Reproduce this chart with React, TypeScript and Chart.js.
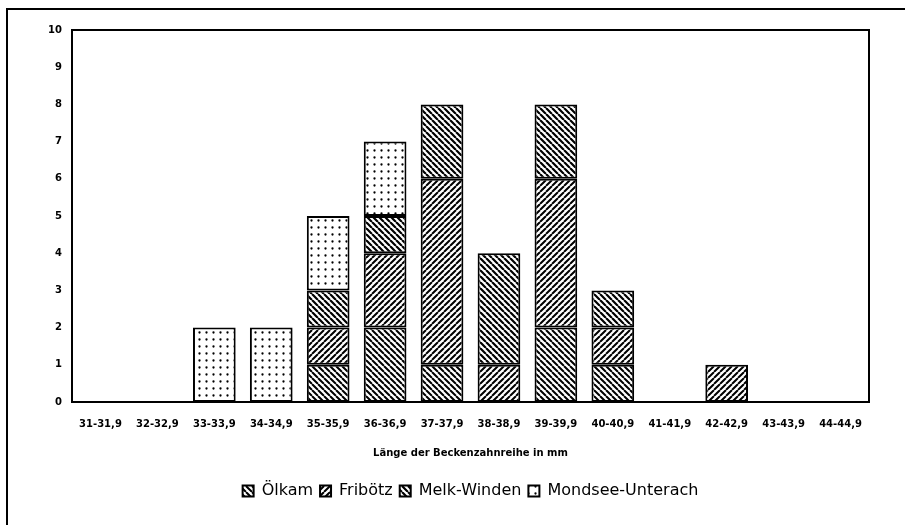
import React, { useEffect, useRef } from "react";
import { Chart, registerables } from "chart.js";

Chart.register(...registerables);

// ---- data ----
const categories = [
  "31-31,9", "32-32,9", "33-33,9", "34-34,9", "35-35,9", "36-36,9", "37-37,9",
  "38-38,9", "39-39,9", "40-40,9", "41-41,9", "42-42,9", "43-43,9", "44-44,9",
];
const seriesNames = ["Ölkam", "Fribötz", "Melk-Winden", "Mondsee-Unterach"];
const olkam = [0, 0, 0, 0, 1, 2, 1, 0, 2, 1, 0, 0, 0, 0];
const fribotz = [0, 0, 0, 0, 1, 2, 5, 1, 4, 1, 0, 1, 0, 0];
const melkWinden = [0, 0, 0, 0, 1, 1, 2, 3, 2, 1, 0, 0, 0, 0];
const mondseeUnterach = [0, 0, 2, 2, 2, 2, 0, 0, 0, 0, 0, 0, 0, 0];
const yMin = 0;
const yMax = 10;
const yStep = 1;
const xAxisTitle = "Länge der Beckenzahnreihe in mm";

// ---- patterns ----
function hatchPattern(ctx: CanvasRenderingContext2D, backslash: boolean, size: number, lw: number) {
  const c = document.createElement("canvas");
  c.width = size;
  c.height = size;
  const g = c.getContext("2d")!;
  g.fillStyle = "#fff";
  g.fillRect(0, 0, size, size);
  g.strokeStyle = "#000";
  g.lineWidth = lw;
  g.beginPath();
  for (let k = -1; k <= 1; k++) {
    if (backslash) {
      g.moveTo(k * size, 0);
      g.lineTo(k * size + size, size);
    } else {
      g.moveTo(k * size, size);
      g.lineTo(k * size + size, 0);
    }
  }
  g.stroke();
  return ctx.createPattern(c, "repeat")!;
}

function dotPattern(ctx: CanvasRenderingContext2D) {
  const c = document.createElement("canvas");
  c.width = 7;
  c.height = 7;
  const g = c.getContext("2d")!;
  g.fillStyle = "#fff";
  g.fillRect(0, 0, 7, 7);
  g.fillStyle = "#000";
  g.beginPath();
  g.arc(3.5, 3.5, 1.15, 0, Math.PI * 2);
  g.fill();
  return ctx.createPattern(c, "repeat")!;
}

const plotFrame = {
  id: "plotFrame",
  afterDatasetsDraw(chart: any) {
    const { ctx, chartArea } = chart;
    const { left, top, right, bottom } = chartArea;
    ctx.save();
    ctx.strokeStyle = "#000";
    ctx.lineWidth = 2;
    ctx.strokeRect(left, top, right - left, bottom - top);
    ctx.restore();
  },
};

export default function App() {
  const ref = useRef<HTMLCanvasElement | null>(null);

  useEffect(() => {
    const canvas = ref.current!;
    const ctx = canvas.getContext("2d")!;
    const fills = [
      hatchPattern(ctx, true, 6, 2),
      hatchPattern(ctx, false, 6, 2),
      hatchPattern(ctx, true, 6, 2.2),
      dotPattern(ctx),
    ];
    const values = [olkam, fribotz, melkWinden, mondseeUnterach];

    const chart = new Chart(canvas, {
      type: "bar",
      data: {
        labels: categories,
        datasets: seriesNames.map((name, i) => ({
          label: name,
          data: values[i].map((v) => (v === 0 ? null : v)),
          backgroundColor: fills[i],
          borderColor: "#000",
          borderWidth: 2,
          borderSkipped: false,
          barPercentage: 0.75,
          categoryPercentage: 1,
        })),
      },
      options: {
        animation: false,
        responsive: false,
        devicePixelRatio: 1,
        layout: { padding: { left: 0, right: 36, top: 30, bottom: 16 } },
        plugins: {
          tooltip: { enabled: false },
          legend: {
            position: "bottom",
            fullSize: false,
            labels: {
              boxWidth: 11,
              boxHeight: 11,
              padding: 7,
              color: "#000",
              font: { family: "DejaVu Sans", size: 16 },
              generateLabels: (ch: any) =>
                ch.data.datasets.map((ds: any, i: number) => ({
                  text: ds.label,
                  fillStyle: ds.backgroundColor,
                  strokeStyle: "#000",
                  lineWidth: 2,
                  fontColor: "#000",
                  datasetIndex: i,
                  hidden: false,
                })),
            },
          },
        },
        scales: {
          x: {
            stacked: true,
            grid: { display: false, drawTicks: false },
            border: { display: false },
            ticks: {
              color: "#000",
              font: { family: "DejaVu Sans", size: 10, weight: "bold" },
              padding: 16,
              maxRotation: 0,
              autoSkip: false,
            },
            title: {
              display: true,
              text: xAxisTitle,
              color: "#000",
              font: { family: "DejaVu Sans", size: 10, weight: "bold" },
              padding: { top: 0, bottom: 17 },
            },
            afterFit: (scale: any) => {
              scale.height = 74;
            },
          },
          y: {
            stacked: true,
            min: yMin,
            max: yMax,
            grid: { display: false, drawTicks: false },
            border: { display: false },
            ticks: {
              stepSize: yStep,
              color: "#000",
              font: { family: "DejaVu Sans", size: 10, weight: "bold" },
              padding: 10,
            },
            afterFit: (scale: any) => {
              scale.width = 72;
            },
          },
        },
      },
      plugins: [plotFrame],
    });
    return () => chart.destroy();
  }, []);

  return (
    <div style={{ position: "absolute", left: 0, top: 0, width: 905, height: 525, background: "#fff" }}>
      <div
        style={{
          position: "absolute",
          left: 6,
          top: 8,
          width: 905 - 8,
          height: 525 - 10,
          borderLeft: "2px solid #000",
          borderTop: "2px solid #000",
        }}
      />
      <canvas ref={ref} width={905} height={525} style={{ position: "absolute", left: 0, top: 0 }} />
    </div>
  );
}
